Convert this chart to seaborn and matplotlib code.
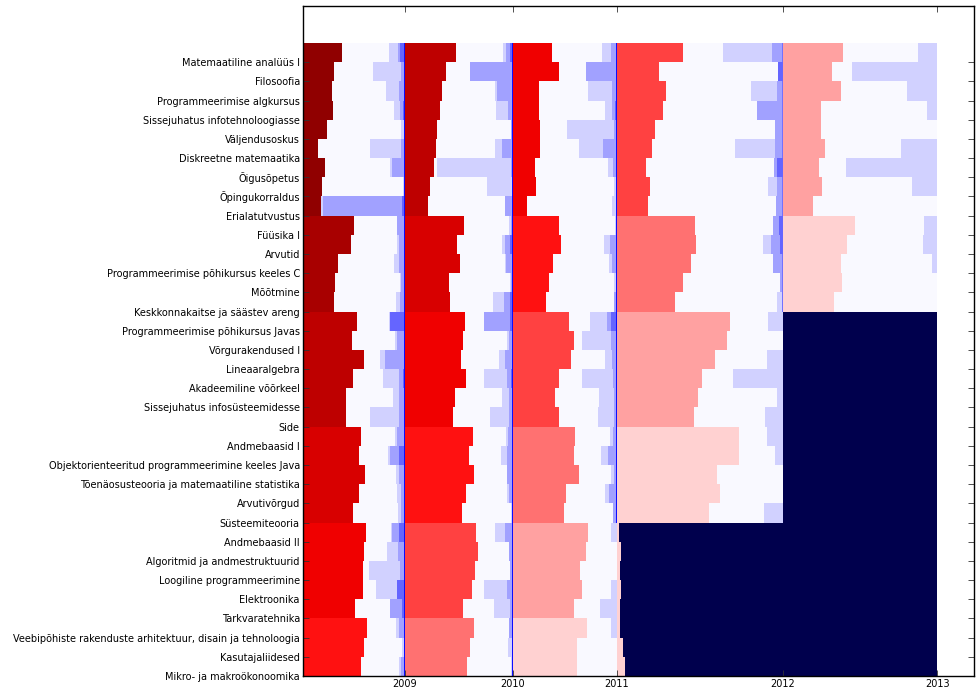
import numpy as np
import matplotlib
matplotlib.use("Agg")
import matplotlib.pyplot as plt
import seaborn as sns

courses = [
    "Matemaatiline analüüs I", "Filosoofia", "Programmeerimise algkursus",
    "Sissejuhatus infotehnoloogiasse", "Väljendusoskus", "Diskreetne matemaatika",
    "Õigusõpetus", "Õpingukorraldus", "Erialatutvustus", "Füüsika I", "Arvutid",
    "Programmeerimise põhikursus keeles C", "Mõõtmine",
    "Keskkonnakaitse ja säästev areng", "Programmeerimise põhikursus Javas",
    "Võrgurakendused I", "Lineaaralgebra", "Akadeemiline võõrkeel",
    "Sissejuhatus infosüsteemidesse", "Side", "Andmebaasid I",
    "Objektorienteeritud programmeerimine keeles Java",
    "Tõenäosusteooria ja matemaatiline statistika", "Arvutivõrgud",
    "Süsteemiteooria", "Andmebaasid II", "Algoritmid ja andmestruktuurid",
    "Loogiline programmeerimine", "Elektroonika", "Tarkvaratehnika",
    "Veebipõhiste rakenduste arhitektuur, disain ja tehnoloogia",
    "Kasutajaliidesed", "Mikro- ja makroökonoomika",
]
cohort = [0] * 9 + [1] * 5 + [2] * 6 + [3] * 5 + [4] * 5 + [5] * 3
year_labels = ["2009", "2010", "2011", "2012", "2013"]
year_edges = [0.0, 101.7, 209.7, 313.7, 479.7, 634.0]
shade = [0.93, 0.84, 0.75, 0.655, 0.56, 0.465, 0.37, 0.28, 0.185, 0.09]
future_value = -1.0
filler_value = -0.012
light_value, mid_value, dark_value = -0.09, -0.185, -0.3

# block 0 (until 2009)
b0_red = [38.7, 30.7, 28.7, 29.7, 23.7, 14.7, 21.7, 18.7, 17.7, 50.7, 47.7, 34.7, 31.7, 30.7,
          53.7, 48.7, 60.7, 49.7, 42.7, 42.7, 57.7, 55.7, 61.7, 55.7, 49.7,
          62.7, 60.7, 59.7, 59.7, 51.7, 63.7, 60.7, 57.7]
b0_light = [16, 32, 19, 11, 4, 35, 15, 2, 84, 8, 8, 11, 5, 9, 16, 10, 25, 22, 12, 35,
            10, 17, 9, 8, 7, 14, 18, 36, 29, 15, 9, 3, 6]
b0_mid = [6.7, 4, 6, 5, 1, 4, 13, 0, 82, 8, 6, 6, 4, 5, 15, 8, 20, 6, 6, 6,
          8, 15, 6, 4, 4, 13, 7, 5, 8, 15, 6, 0, 4]
b0_dark = [5, 0, 1, 1.7, 0, 0, 0, 0, 3, 1, 0, 0, 0, 0, 15, 0, 0, 2, 1, 0,
           0, 6, 0, 0, 0, 6, 0, 0, 8, 3, 0, 0, 0]
# block 1 (2009-2010)
b1_red = [51, 41, 37, 35, 32, 31, 29, 25, 23, 59, 52, 55, 44, 45, 60, 58, 56, 61, 50, 48,
          68, 64, 69, 61, 57, 71, 73, 70, 67, 58, 69, 65, 62]
b1_light = [10, 43, 18, 17, 2, 18, 76, 26, 8, 4, 11, 8, 3, 20, 29, 6, 14, 29, 11, 23,
            7, 12, 6, 6, 2, 18, 4, 3, 29, 19, 4, 5, 2]
b1_mid = [7, 43, 16, 5, 2, 11, 2, 0, 8, 2, 8, 7, 2, 9, 29, 4, 8, 6, 4, 4,
          5, 6, 6, 4, 0, 8, 4, 3, 6, 3, 4, 0, 0]
b1_dark = [3, 0, 0, 0, 0, 0, 0, 0, 0, 0, 3, 0, 0, 3, 3, 0, 0, 2, 0, 0,
           0, 0, 0, 0, 0, 0, 0, 0, 0, 0, 0, 0, 0]
# block 2 (2010-2011)
b2_red = [39, 46, 26, 26, 27, 27, 22, 23, 14, 46, 48, 40, 36, 33, 56, 61, 58, 46, 42, 46,
          62, 61, 66, 53, 51, 75, 73, 67, 69, 61, 74, 64, 64]
b2_light = [15, 31, 29, 12, 50, 38, 9, 3, 5, 2, 13, 8, 3, 3, 27, 35, 12, 35, 18, 19,
            7, 16, 6, 12, 4, 6, 0, 0, 6, 17, 6, 0, 0]
b2_mid = [6, 31, 5, 5, 3, 14, 4, 0, 0, 0, 7, 5, 0, 3, 10, 6, 5, 4, 3, 3,
          4, 9, 3, 8, 4, 0, 0, 0, 0, 0, 0, 0, 0]
b2_dark = [1, 0, 0, 2, 0, 0, 0, 0, 0, 0, 0, 0, 0, 0, 6, 0, 0, 0, 0, 0,
           0, 0, 0, 0, 0, 0, 0, 0, 0, 0, 0, 0, 0]
# block 3 (2011-2012); last rows: thin lead-in before the "future" block
b3_red = [66, 42, 49, 46, 38, 35, 29, 33, 31, 78, 79, 74, 66, 58, 113, 110, 98, 85, 81, 77,
          122, 122, 100, 103, 92, 2, 4, 3, 4, 3, 3, 6, 8]
b3_light = [60, 5, 32, 26, 8, 48, 9, 15, 7, 10, 20, 10, 3, 6, 15, 0, 16, 50, 6, 18,
            16, 8, 0, 0, 19, 0, 0, 0, 0, 0, 0, 0, 0]
b3_mid = [11, 5, 6, 26, 8, 8, 9, 6, 7, 10, 12, 10, 3, 0, 0, 0, 0, 0, 0, 0,
          0, 0, 0, 0, 0, 0, 0, 0, 0, 0, 0, 0, 0]
b3_dark = [0, 5, 0, 0, 0, 0, 6, 0, 0, 4, 3, 0, 0, 0, 0, 0, 0, 0, 0, 0,
           0, 0, 0, 0, 0, 0, 0, 0, 0, 0, 0, 0, 0]
# block 4 (2012-2013)
b4_red = [60, 49, 58, 38, 38, 42, 36, 39, 30, 72, 64, 58, 59, 51] + [0] * 19
b4_light = [19, 85, 30, 10, 0, 36, 91, 25, 0, 13, 14, 5, 0, 0] + [0] * 19
b4_mid = [0] * 33
b4_dark = [0] * 33

blocks = [
    (b0_red, b0_light, b0_mid, b0_dark),
    (b1_red, b1_light, b1_mid, b1_dark),
    (b2_red, b2_light, b2_mid, b2_dark),
    (b3_red, b3_light, b3_mid, b3_dark),
    (b4_red, b4_light, b4_mid, b4_dark),
]

res = 0.5  # px per cell
xmax = 670.7
ncols = int(round(year_edges[-1] / res))
nrows = len(courses)
mat = np.full((nrows, ncols), np.nan)


def idx(x):
    return int(round(x / res))


for r in range(nrows):
    for b, (red, light, mid, dark) in enumerate(blocks):
        s, e = year_edges[b], year_edges[b + 1]
        level = 2 * b + cohort[r]
        if level >= 10:
            mat[r, idx(s):idx(e)] = future_value
            if red[r] > 0:
                mat[r, idx(s):idx(s + red[r])] = shade[-1]
            continue
        mat[r, idx(s):idx(e)] = filler_value
        mat[r, idx(s):idx(s + red[r])] = shade[level]
        for w, v in ((light[r], light_value), (mid[r], mid_value), (dark[r], dark_value)):
            if w > 0:
                seg = mat[r, idx(e - w):idx(e)]
                mat[r, idx(e - w):idx(e)] = np.minimum(seg, v)
        nxt = 2 * (b + 1) + cohort[r]
        if b < 4 and nxt < 10:
            v = -0.47 if b < 3 else -0.28
            seg = mat[r, idx(e - 1.2):idx(e)]
            mat[r, idx(e - 1.2):idx(e)] = np.minimum(seg, v)

fig = plt.figure(figsize=(9.8, 6.97), dpi=100)
ax = fig.add_axes([0.3095, 0.0301, 0.6844, 0.9613])
sns.heatmap(mat, cmap="seismic", vmin=-1, vmax=1, cbar=False, ax=ax,
            xticklabels=False, yticklabels=False, rasterized=True)
ax.set_xlim(0, xmax / res)
ax.set_ylim(nrows, -1.93)

ax.set_yticks(np.arange(1, nrows + 1))
ax.set_yticklabels(courses, fontsize=7, family="DejaVu Sans")
ax.set_xticks([x / res for x in year_edges[1:]])
ax.set_xticklabels(year_labels, fontsize=7, family="DejaVu Sans")
ax.tick_params(axis="both", direction="in", length=4, width=0.6, color="#333333",
               top=True, right=True, bottom=True, left=True, pad=2.5)
for sp in ax.spines.values():
    sp.set_visible(True)
    sp.set_color("black")
    sp.set_linewidth(1.0)
ax.set_facecolor("white")

fig.savefig("out.png", dpi=100)
